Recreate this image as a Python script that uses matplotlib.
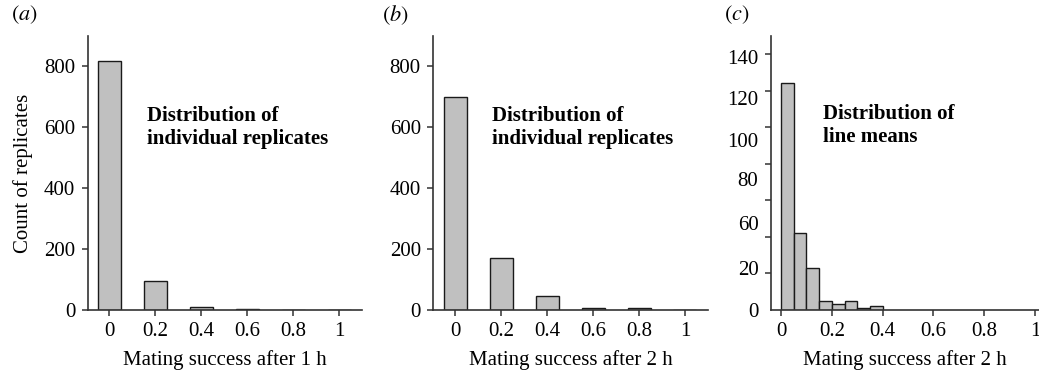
import numpy as np
import matplotlib
matplotlib.use("Agg")
import matplotlib.pyplot as plt

plt.rcParams['font.family'] = ['Liberation Serif', 'DejaVu Serif']
plt.rcParams['mathtext.fontset'] = 'stix'

# panel (a) and (b): individual replicates, bins centred on 0, 0.2, ... 1
success_bins = [0, 0.2, 0.4, 0.6, 0.8, 1.0]
counts_1h = [818, 95, 11, 3, 1, 1]
counts_2h = [699, 169, 47, 5, 5, 1]

# panel (c): line means, bin edges every 0.05
mean_bin_left = [0, 0.05, 0.10, 0.15, 0.20, 0.25, 0.30, 0.35]
mean_counts = [124, 42, 23, 5, 3, 5, 1, 2]

# (c) has odd tick labels in the original figure
c_tick_labels = ['0', '20', '60', '80', '100', '120', '140']
c_label_pos = [0, 23.2, 47.8, 71.6, 93.3, 116, 138.7]

x_ticks = [0, 0.2, 0.4, 0.6, 0.8, 1]
x_ticklabels = ['0', '0.2', '0.4', '0.6', '0.8', '1']

BAR = '#c0c0c0'
EDGE = '#1a1a1a'
AXC = '#333333'
TICK_FS = 15
LAB_FS = 15

fig = plt.figure(figsize=(10.39, 3.78), dpi=100)
ax_a = fig.add_axes([0.0844, 0.18, 0.264, 0.725])
ax_b = fig.add_axes([0.417, 0.18, 0.2644, 0.725])
ax_c = fig.add_axes([0.742, 0.18, 0.258, 0.725])


def style(ax):
    for s in ['top', 'right']:
        ax.spines[s].set_visible(False)
    for s in ['left', 'bottom']:
        ax.spines[s].set_color(AXC)
        ax.spines[s].set_linewidth(1.2)
    ax.tick_params(which='both', direction='out', color=AXC, width=1.1,
                   labelsize=TICK_FS, length=4, pad=5)
    ax.set_xticks(x_ticks)
    ax.set_xticklabels(x_ticklabels)


for ax, counts, xl in [(ax_a, counts_1h, 'Mating success after 1 h'),
                       (ax_b, counts_2h, 'Mating success after 2 h')]:
    ax.bar(success_bins, counts, width=0.1, color=BAR, edgecolor=EDGE, linewidth=1.0)
    style(ax)
    ax.set_xlim(-0.095, 1.1)
    ax.set_ylim(0, 900)
    ax.set_yticks([0, 200, 400, 600, 800])
    ax.set_xlabel(xl, fontsize=LAB_FS, labelpad=6)
    ax.text(0.215, 0.745, 'Distribution of\nindividual replicates', transform=ax.transAxes,
            fontsize=LAB_FS, fontweight='bold', va='top', ha='left', linespacing=1.2)

ax_a.set_ylabel('Count of replicates', fontsize=LAB_FS, labelpad=8)

ax_c.bar(mean_bin_left, mean_counts, width=0.05, align='edge', color=BAR,
         edgecolor=EDGE, linewidth=1.0)
style(ax_c)
ax_c.set_xlim(-0.04, 1.016)
ax_c.set_ylim(0, 150)
ax_c.set_yticks(np.arange(0, 141, 20), minor=True)
ax_c.set_yticks(c_label_pos)
ax_c.set_yticklabels(c_tick_labels)
ax_c.tick_params(axis='y', which='major', length=0, pad=9)
ax_c.tick_params(axis='y', which='minor', length=4)
ax_c.set_xlabel('Mating success after 2 h', fontsize=LAB_FS, labelpad=6)
ax_c.text(0.195, 0.75, 'Distribution of\nline means', transform=ax_c.transAxes,
          fontsize=LAB_FS, fontweight='bold', va='top', ha='left', linespacing=1.2)

for x, lab in [(0.011, 'a'), (0.368, 'b'), (0.697, 'c')]:
    fig.text(x, 0.96, '$(' + lab + ')$', fontsize=16, va='center', ha='left')

fig.savefig('out.png', dpi=100)
